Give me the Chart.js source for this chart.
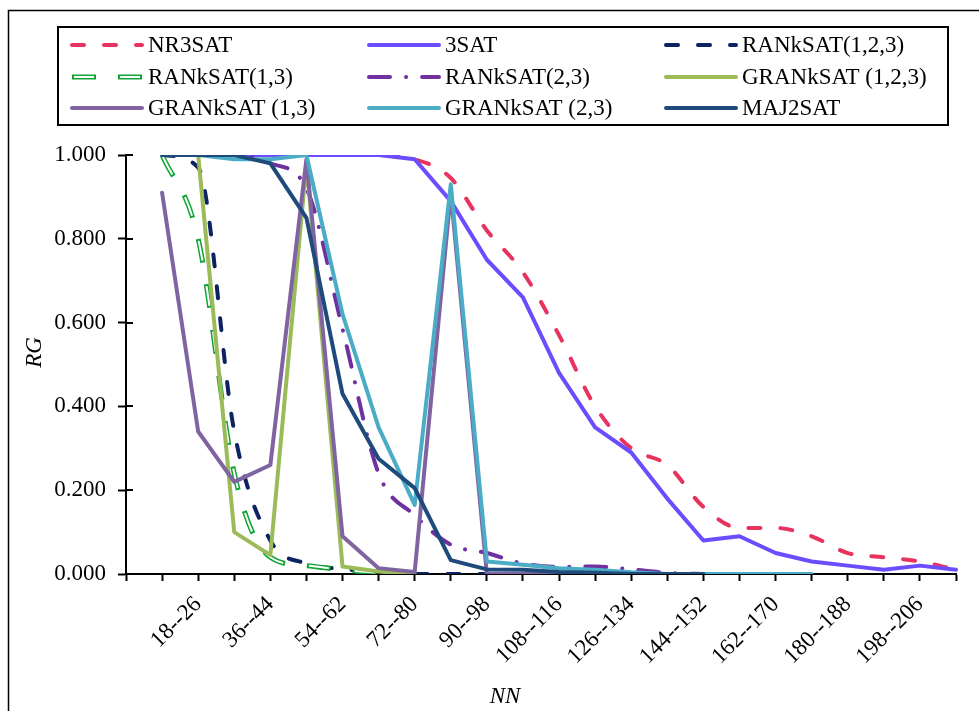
<!DOCTYPE html>
<html>
<head>
<meta charset="utf-8">
<title>RG vs NN</title>
<script src="https://cdn.jsdelivr.net/npm/chart.js@4.4.1/dist/chart.umd.min.js"></script>
<style>
  html, body { margin: 0; padding: 0; background: #fff; }
</style>
</head>
<body>
<canvas id="chart" width="979" height="711"></canvas>
<script>
// x categories (first slot is empty in the source chart)
const categories = ['', '9--17', '18--26', '27--35', '36--44', '45--53', '54--62', '63--71',
  '72--80', '81--89', '90--98', '99--107', '108--116', '117--125', '126--134', '135--143',
  '144--152', '153--161', '162--170', '171--179', '180--188', '189--197', '198--206', '207--215'];

const yTicks = [0, 0.2, 0.4, 0.6, 0.8, 1.0];

// series values
const nr3sat = [null, 1, 1, 1, 1, 1, 1, 1, 0.99, 0.945, 0.82, 0.72, 0.57, 0.40, 0.30, 0.26,
  0.16, 0.11, 0.11, 0.09, 0.05, 0.04, 0.03, 0.01];
const sat3 = [null, 1, 1, 1, 1, 1, 1, 1, 0.99, 0.89, 0.75, 0.66, 0.48, 0.35, 0.29, 0.18,
  0.08, 0.09, 0.05, 0.03, 0.02, 0.01, 0.02, 0.01];
const ranksat123 = [null, 1, 0.97, 0.34, 0.08, 0.025, 0.012, 0.005, 0, 0, 0, 0, 0, 0];
const ranksat13 = [null, 1, 0.80, 0.24, 0.04, 0.02, 0.01, 0.003, 0];
const ranksat23 = [null, 1, 1, 1, 0.98, 0.92, 0.585, 0.24, 0.14, 0.07, 0.05, 0.025, 0.017,
  0.018, 0.011, 0.003, 0];
const granksat123 = [null, 1, 1, 0.10, 0.045, 0.98, 0.018, 0.006, 0];
const granksat13 = [null, 0.91, 0.34, 0.22, 0.26, 0.99, 0.09, 0.014, 0.005, 0.91, 0, 0, 0, 0, 0];
const granksat23 = [null, 1, 1, 0.99, 0.99, 1, 0.62, 0.35, 0.165, 0.93, 0.03, 0.022, 0.014,
  0.01, 0.004, 0, 0, 0, 0, 0];
const maj2sat = [null, 1, 1, 1, 0.98, 0.85, 0.43, 0.275, 0.205, 0.033, 0.011, 0.01, 0.005,
  0.003, 0, 0, 0];

const FONT = "'Liberation Serif', 'Times New Roman', serif";
const FSIZE = 23;

function line(label, data, color, extra) {
  return Object.assign({
    label, data,
    borderColor: color,
    backgroundColor: color,
    borderWidth: 4,
    pointRadius: 0,
    pointHoverRadius: 0,
    fill: false,
    tension: 0,
    borderJoinStyle: 'round',
    borderCapStyle: 'round'
  }, extra);
}

const dashed = { cubicInterpolationMode: 'monotone', tension: 0.4 };

const datasets = [
  line('NR3SAT', nr3sat, '#E8335F', Object.assign({ borderDash: [12, 20], order: 10 }, dashed)),
  line('3SAT', sat3, '#6B4CFF', { order: 9 }),
  line('RANkSAT(1,2,3)', ranksat123, '#0C2263', Object.assign({ borderDash: [12, 20], order: 8 }, dashed)),
  line('RANkSAT(1,3)', ranksat13, '#0EA534', Object.assign({ borderWidth: 5, borderDash: [24, 22], borderCapStyle: 'butt', order: 7 }, dashed)),
  // white core that makes the green dashes hollow
  line('_inner', ranksat13, '#FFFFFF', Object.assign({ borderWidth: 2, borderDash: [20, 26], borderDashOffset: -2, borderCapStyle: 'butt', order: 6.5 }, dashed)),
  line('RANkSAT(2,3)', ranksat23, '#7030A0', Object.assign({ borderDash: [21, 16, 0.1, 16], order: 6 }, dashed)),
  line('GRANkSAT (1,2,3)', granksat123, '#9BBB59', { order: 5 }),
  line('GRANkSAT (1,3)', granksat13, '#8064A2', { order: 4 }),
  line('GRANkSAT (2,3)', granksat23, '#4BACC6', { order: 3 }),
  line('MAJ2SAT', maj2sat, '#1F4A7C', { order: 2 })
];

// outer frame and white background
const frame = {
  id: 'frame',
  beforeDraw(chart) {
    const { ctx, width, height } = chart;
    ctx.save();
    ctx.fillStyle = '#fff';
    ctx.fillRect(0, 0, width, height);
    ctx.strokeStyle = '#000';
    ctx.lineWidth = 1.5;
    ctx.strokeRect(8.5, 10.5, width + 20, height + 20);
    ctx.restore();
  }
};

// y ticks cross the axis in the source, add the inner half
const innerTicks = {
  id: 'innerTicks',
  afterDatasetsDraw(chart) {
    const { ctx, chartArea, scales: { y } } = chart;
    ctx.save();
    ctx.strokeStyle = '#000';
    ctx.lineWidth = 2;
    y.ticks.forEach((t, i) => {
      const py = Math.round(y.getPixelForTick(i));
      ctx.beginPath();
      ctx.moveTo(chartArea.left, py);
      ctx.lineTo(chartArea.left + 7, py);
      ctx.stroke();
    });
    ctx.restore();
  }
};

// axis titles sit a little off-centre in the source
const axisTitles = {
  id: 'axisTitles',
  afterDraw(chart) {
    const { ctx, chartArea } = chart;
    ctx.save();
    ctx.fillStyle = '#000';
    ctx.font = 'italic ' + FSIZE + 'px ' + FONT;
    ctx.textAlign = 'center';
    ctx.textBaseline = 'middle';
    ctx.fillText('NN', (chartArea.left + chartArea.right) / 2 - 36, 697);
    ctx.translate(35, (chartArea.top + chartArea.bottom) / 2 - 12);
    ctx.rotate(-Math.PI / 2);
    ctx.fillText('RG', 0, 0);
    ctx.restore();
  }
};

// boxed legend, 3 columns
const boxLegend = {
  id: 'boxLegend',
  afterDraw(chart) {
    const { ctx } = chart;
    const box = { x: 58, y: 27, w: 890, h: 98 };
    const colX = [72, 369, 666];
    const rowY = [45, 77, 108];
    const sample = 70;
    ctx.save();
    ctx.strokeStyle = '#000';
    ctx.lineWidth = 2;
    ctx.strokeRect(box.x, box.y, box.w, box.h);
    ctx.font = FSIZE + 'px ' + FONT;
    ctx.textBaseline = 'middle';
    ctx.fillStyle = '#000';
    const shown = chart.data.datasets.filter(d => d.label !== '_inner');
    const inner = chart.data.datasets.find(d => d.label === '_inner');
    shown.forEach((ds, k) => {
      const x = colX[k % 3];
      const y = rowY[Math.floor(k / 3)];
      const strokes = [ds];
      if (ds.data === ranksat13) strokes.push(inner);
      strokes.forEach(s => {
        ctx.beginPath();
        ctx.strokeStyle = s.borderColor;
        ctx.lineWidth = s.borderWidth;
        ctx.lineCap = s.borderCapStyle || 'round';
        ctx.setLineDash(s.borderDash || []);
        ctx.lineDashOffset = s.borderDashOffset || 0;
        ctx.moveTo(x, y);
        ctx.lineTo(x + sample, y);
        ctx.stroke();
      });
      ctx.setLineDash([]);
      ctx.lineDashOffset = 0;
      ctx.fillText(ds.label, x + sample + 6, y + 1);
    });
    ctx.restore();
  }
};

new Chart(document.getElementById('chart'), {
  type: 'line',
  data: { labels: categories, datasets },
  options: {
    responsive: false,
    animation: false,
    events: [],
    layout: { padding: { left: 18, top: 155, right: 23, bottom: 0 } },
    plugins: {
      legend: { display: false },
      tooltip: { enabled: false }
    },
    scales: {
      x: {
        type: 'category',
        offset: false,
        grid: { drawOnChartArea: false, drawTicks: true, tickLength: 7, tickWidth: 2, tickColor: '#000' },
        border: { display: true, color: '#000', width: 2 },
        ticks: {
          autoSkip: false,
          minRotation: 45,
          maxRotation: 45,
          padding: 10,
          color: '#000',
          font: { family: FONT, size: FSIZE },
          callback: (v, i) => (i % 2 === 0 ? categories[i] : '')
        },
        title: { display: false },
        afterFit: s => {
          s.height = 137;
          s.paddingLeft = 0;
          s.paddingRight = 0;
        }
      },
      y: {
        min: 0,
        max: 1,
        afterBuildTicks: s => { s.ticks = yTicks.map(v => ({ value: v })); },
        grid: { drawOnChartArea: false, drawTicks: true, tickLength: 8, tickWidth: 2, tickColor: '#000' },
        border: { display: true, color: '#000', width: 2 },
        ticks: {
          padding: 12,
          color: '#000',
          font: { family: FONT, size: FSIZE },
          callback: v => Number(v).toFixed(3)
        },
        title: { display: false },
        afterFit: s => { s.width = 108; }
      }
    }
  },
  plugins: [frame, innerTicks, axisTitles, boxLegend]
});
</script>
</body>
</html>
